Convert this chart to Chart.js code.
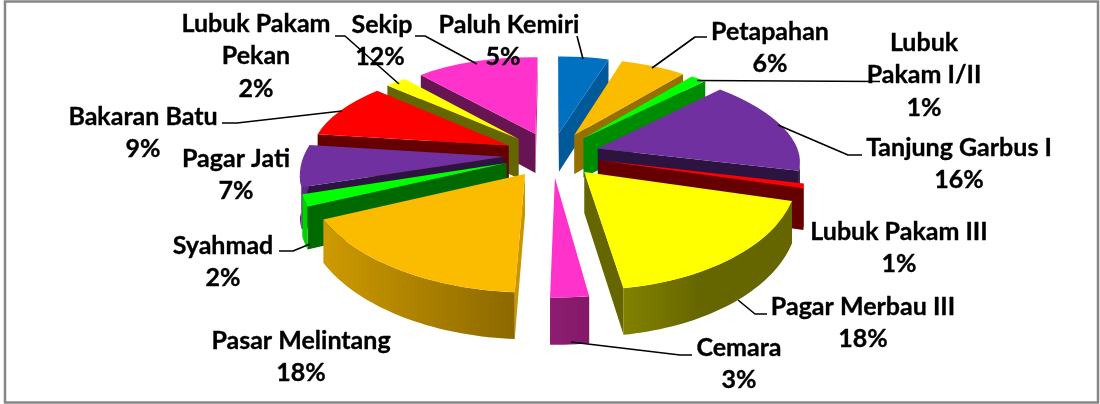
<!DOCTYPE html>
<html>
<head>
<meta charset="utf-8">
<style>
html,body{margin:0;padding:0;background:#fff}
#wrap{position:relative;width:1100px;height:404px}
</style>
<script src="https://cdn.jsdelivr.net/npm/chart.js@4"></script>
</head>
<body>
<div id="wrap"><canvas id="c" width="1100" height="404"></canvas></div>
<script>
// ---- data ----
const categories = ["Paluh Kemiri","Petapahan","Lubuk Pakam I/II","Tanjung Garbus I","Lubuk Pakam III","Pagar Merbau III","Cemara","Pasar Melintang","Syahmad","Pagar Jati","Bakaran Batu","Lubuk Pakam Pekan","Sekip"];
const values = [4.8,6.2,1.49,16.26,0.75,18.3,2.55,17.65,2,7,9.4,2,11.6];
const colors = ["#0070C0","#FBBC00","#00FF00","#7030A0","#FF0000","#FFFF00","#FF33CC","#FBBC00","#00FF00","#7030A0","#FF0000","#FFFF00","#FF33CC"];

// ---- label layout (wrapped lines, centre x, first line centre y, percent x) ----
const labelLines = [["Paluh Kemiri"],["Petapahan"],["Lubuk","Pakam I/II"],["Tanjung Garbus I"],["Lubuk Pakam III"],["Pagar Merbau III"],["Cemara"],["Pasar Melintang"],["Syahmad"],["Pagar Jati"],["Bakaran Batu"],["Lubuk Pakam","Pekan"],["Sekip"]];
const labelX = [509,770,924,959,899,863,739,301,223,236,143,256,382];
const labelY = [25,32,43,148,232,307,348,341,246,159,117,24,25];
const pctX   = [503,770,924,959,899,863,739,301,223,236,143,256,380];
const leaders = [
 [[583,59],[577,36]],
 [[652,68],[695,37],[707,37]],
 [[697,80.5],[880,81.5]],
 [[778,125],[848,155],[862,155]],
 null,
 [[738,300],[755,314],[767,314]],
 [[571,342],[680,355],[692,355]],
 null,
 [[310,244],[293,251],[279,251]],
 null,
 [[342,111],[237,123],[222,123]],
 [[399,84],[345,36],[335,36]],
 [[477,64],[425,36],[415,36]]
];

// ---- projection of the pie plane onto the page ----
const VIEW = {cx:552, cy:154.5, A:200, B:94, persp:0.15, explode:0.24};
function project(u,v){
  const w = 1/(1-VIEW.persp*v);
  return {x:VIEW.cx+VIEW.A*u*w, y:VIEW.cy+VIEW.B*v*w};
}
function depthAt(y){ return 40+0.05*(y-155); }
function hex(c){ return [1,3,5].map(i=>parseInt(c.substr(i,2),16)); }
function shadeColor(c,s){ const r=hex(c); return `rgb(${r.map(x=>Math.round(x*s)).join(',')})`; }
function clamp(x,a,b){ return Math.max(a,Math.min(b,x)); }

const pie3d = {
  id:'pie3d',
  beforeDatasetDraw(chart,args){
    const ctx = chart.ctx;
    const arcs = chart.getDatasetMeta(args.index).data;
    const items = arcs.map((arc,i)=>{
      const a0=arc.startAngle, a1=arc.endAngle, mid=(a0+a1)/2, R=arc.outerRadius;
      const e=VIEW.explode, ox=e*Math.cos(mid), oy=e*Math.sin(mid);
      const T=project(ox,oy);
      const C1=project(Math.cos(a0)+ox,Math.sin(a0)+oy);
      const C2=project(Math.cos(a1)+ox,Math.sin(a1)+oy);
      // affine map from the arc's own circle to the page
      const s1=[R*Math.cos(a0),R*Math.sin(a0)], s2=[R*Math.cos(a1),R*Math.sin(a1)];
      const det=s1[0]*s2[1]-s1[1]*s2[0];
      const d1=[C1.x-T.x,C1.y-T.y], d2=[C2.x-T.x,C2.y-T.y];
      const ma=(d1[0]*s2[1]-d2[0]*s1[1])/det, mc=(d2[0]*s1[0]-d1[0]*s2[0])/det;
      const mb=(d1[1]*s2[1]-d2[1]*s1[1])/det, md=(d2[1]*s1[0]-d1[1]*s2[0])/det;
      const map=(x,y)=>({x:T.x+ma*(x-arc.x)+mc*(y-arc.y), y:T.y+mb*(x-arc.x)+md*(y-arc.y)});
      const tf=[ma,mb,mc,md,T.x-ma*arc.x-mc*arc.y,T.y-mb*arc.x-md*arc.y];
      return {arc,i,mid,a0,a1,R,map,tf,T,C1,C2};
    }).sort((p,q)=>Math.sin(p.mid)-Math.sin(q.mid));

    const quad=(a,b,fill)=>{
      const da=depthAt(a.y), db=depthAt(b.y);
      ctx.fillStyle=fill;
      ctx.beginPath(); ctx.moveTo(a.x,a.y); ctx.lineTo(b.x,b.y);
      ctx.lineTo(b.x,b.y+db); ctx.lineTo(a.x,a.y+da); ctx.closePath();
      ctx.fill();
    };
    const radialShade=(a,b)=>{
      const dx=b.x-a.x, dy=b.y-a.y, nx=dy/Math.hypot(dx,dy);
      return 0.4+0.4*clamp((nx-0.2)/0.6,0,1);
    };

    items.forEach(it=>{
      const {arc,i,R,map,T,C1,C2}=it, col=colors[i];
      // radial cut faces that look toward the viewer
      if(C1.x<T.x) quad(T,C1,shadeColor(col,radialShade(T,C1)));
      if(T.x<C2.x) quad(C2,T,shadeColor(col,radialShade(C2,T)));
      // curved outer face: one path with a horizontal gradient
      const n=Math.max(4,Math.ceil((it.a1-it.a0)/0.03));
      const run=[];
      for(let k=0;k<=n;k++){
        const t=it.a0+(it.a1-it.a0)*k/n;
        const p=map(arc.x+R*Math.cos(t),arc.y+R*Math.sin(t));
        const next=map(arc.x+R*Math.cos(t+0.005),arc.y+R*Math.sin(t+0.005));
        if(next.x<p.x || (run.length && k===n)) run.push({x:p.x,y:p.y,t});
      }
      if(run.length>1){
        const xs=run.map(p=>p.x), minX=Math.min(...xs), maxX=Math.max(...xs);
        const g=ctx.createLinearGradient(minX,0,maxX,0);
        run.forEach(p=>g.addColorStop(clamp((p.x-minX)/Math.max(maxX-minX,1),0,1),
          shadeColor(col,clamp(0.55-0.3*Math.cos(p.t),0.4,0.85))));
        ctx.fillStyle=g;
        ctx.beginPath();
        run.forEach((p,k)=>k?ctx.lineTo(p.x,p.y):ctx.moveTo(p.x,p.y));
        for(let k=run.length-1;k>=0;k--) ctx.lineTo(run[k].x,run[k].y+depthAt(run[k].y));
        ctx.closePath(); ctx.fill();
      }
      // top surface, drawn by the library's arc element
      ctx.save();
      ctx.transform(...it.tf);
      arc.draw(ctx);
      ctx.restore();
    });
    return false;
  },
  afterDraw(chart){
    const ctx=chart.ctx;
    ctx.save();
    // frame
    ctx.strokeStyle='#868686'; ctx.lineWidth=2.5;
    ctx.strokeRect(5,1.5,1093,401);
    // leader lines
    ctx.strokeStyle='#000'; ctx.lineWidth=1.6; ctx.lineJoin='round';
    leaders.forEach(l=>{
      if(!l) return;
      ctx.beginPath(); l.forEach((p,k)=>k?ctx.lineTo(p[0],p[1]):ctx.moveTo(p[0],p[1])); ctx.stroke();
    });
    // labels
    ctx.fillStyle='#000'; ctx.strokeStyle='#000'; ctx.lineWidth=0.35;
    ctx.textAlign='center'; ctx.textBaseline='middle';
    ctx.font='bold 25px Lato';
    const step=32.4;
    const put=(t,x,y)=>{ ctx.fillText(t,x,y); ctx.strokeText(t,x,y); };
    categories.forEach((name,i)=>{
      let y=labelY[i];
      labelLines[i].forEach(t=>{ put(t,labelX[i],y); y+=step; });
      put(Math.round(values[i])+'%',pctX[i],y);
    });
    ctx.restore();
  }
};

new Chart(document.getElementById('c'),{
  type:'pie',
  data:{labels:categories,datasets:[{data:values,backgroundColor:colors,borderWidth:0}]},
  options:{
    responsive:false,animation:false,
    events:[],
    plugins:{legend:{display:false},tooltip:{enabled:false}}
  },
  plugins:[pie3d]
});
</script>
</body>
</html>
